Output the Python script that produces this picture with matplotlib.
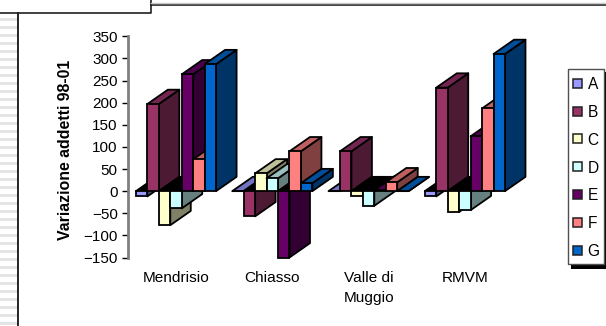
import matplotlib
matplotlib.use("Agg")
import matplotlib.pyplot as plt
from matplotlib.patches import Polygon, Rectangle

categories = ["Mendrisio", "Chiasso", "Valle di\nMuggio", "RMVM"]
series_names = ["A", "B", "C", "D", "E", "F", "G"]
series_values = {
    "A": [-12, 0, 0, -12],
    "B": [197, -57, 90, 234],
    "C": [-77, 40, -12, -47],
    "D": [-39, 29, -33, -43],
    "E": [264, -150, 2, 124],
    "F": [72, 90, 20, 187],
    "G": [287, 18, 0, 310],
}
y_ticks = [-150, -100, -50, 0, 50, 100, 150, 200, 250, 300, 350]

front_colors = ["#9999FF", "#993366", "#FFFFCC", "#CCFFFF", "#660066", "#FF8080", "#0066CC"]
side_colors = ["#4D4D80", "#4D1A33", "#808066", "#668080", "#330033", "#804040", "#003366"]
top_colors = ["#7373BF", "#732650", "#BFBF99", "#99BFBF", "#4D004D", "#BF6060", "#004D99"]

W, H = 606, 326
plt.rcParams["font.family"] = ["Liberation Sans", "DejaVu Sans"]
fig = plt.figure(figsize=(W / 100, H / 100), dpi=100)

# Plot area in pixel terms
left, right, top, bottom = 127.5, 560.0, 36.3, 257.5
ax = fig.add_axes([left / W, 1 - bottom / H, (right - left) / W, (bottom - top) / H])
ax.set_ylim(-150, 350)
ax.set_xlim((left - 176) / 96.3, (right - 176) / 96.3)
ax.patch.set_alpha(0)

bar_w = 11.45 / 96.3          # bar width, in group units
depth_x = 20.5 / 96.3         # oblique depth, in group units
depth_y = 14.3 / ((bottom - top) / 500)  # oblique depth, in value units
lw = 1.3

z = 3
for gi, _ in enumerate(categories):
    for si, name in enumerate(series_names):
        v = series_values[name][gi]
        x0 = gi + (si - 3.5) * bar_w
        x1 = x0 + bar_w
        hi, lo = max(v, 0), min(v, 0)
        side = Polygon([(x1, lo), (x1 + depth_x, lo + depth_y), (x1 + depth_x, hi + depth_y), (x1, hi)],
                       closed=True, fc=side_colors[si], ec="black", lw=lw, zorder=z, clip_on=False, joinstyle="round")
        # Bars below zero show a dark opening where the cap would be
        cap_color = "black" if v < 0 else top_colors[si]
        cap = Polygon([(x0, hi), (x0 + depth_x, hi + depth_y), (x1 + depth_x, hi + depth_y), (x1, hi)],
                      closed=True, fc=cap_color, ec="black", lw=lw, zorder=z, clip_on=False, joinstyle="round")
        ax.add_patch(side)
        ax.add_patch(cap)
        ax.bar(x0, v, width=bar_w, align="edge", color=front_colors[si], edgecolor="black",
               linewidth=lw, zorder=z + 0.5, clip_on=False)
        z += 1

# Axis
for s in ("top", "right", "bottom"):
    ax.spines[s].set_visible(False)
ax.spines["left"].set_color("#808080")
ax.spines["left"].set_linewidth(2)
ax.set_yticks(y_ticks)
ax.tick_params(axis="y", length=4.5, width=1, color="black", labelsize=11, pad=2.5, labelcolor="black")
ax.set_xticks(range(len(categories)))
ax.set_xticklabels(categories, fontsize=11.1, linespacing=1.5)
ax.tick_params(axis="x", length=0, pad=10)
fig.text(65 / W, 1 - 150 / H, "Variazione addetti 98-01", rotation=90, fontsize=11.4, fontweight="bold",
         ha="center", va="center")

# Sheet furniture and legend share a pixel-based overlay
overlay = fig.add_axes([0, 0, 1, 1], zorder=-1)
overlay.set_xlim(0, W)
overlay.set_ylim(H, 0)
overlay.axis("off")
for y in range(18, H, 8):
    overlay.add_patch(Rectangle((0, y), 18, 3, fc="#E4E4E4", ec="none"))
overlay.plot([18, 18], [13, H], color="black", lw=1.2)
overlay.plot([0, 151, 151], [13, 13, 0], color="#202020", lw=1.2)
overlay.plot([151, W], [4.6, 4.6], color="#101010", lw=1.1)
overlay.plot([151, W], [3.3, 3.3], color="#C8C8C8", lw=1)

legend_ax = fig.add_axes([0, 0, 1, 1], zorder=5)
legend_ax.set_xlim(0, W)
legend_ax.set_ylim(H, 0)
legend_ax.axis("off")
legend_ax.add_patch(Rectangle((570.5, 72), 37, 197, fc="black", ec="none"))
legend_ax.add_patch(Rectangle((567.5, 69), 36.5, 195, fc="white", ec="#505050", lw=1))
for i, name in enumerate(series_names):
    cy = 83.3 + i * 27.8
    legend_ax.add_patch(Rectangle((573, cy - 4.5), 9, 9, fc=front_colors[i], ec="#202020", lw=1.1))
    legend_ax.text(587.5, cy, name, fontsize=11.2, ha="left", va="center_baseline", color="black")

fig.savefig("out.png", dpi=100)
